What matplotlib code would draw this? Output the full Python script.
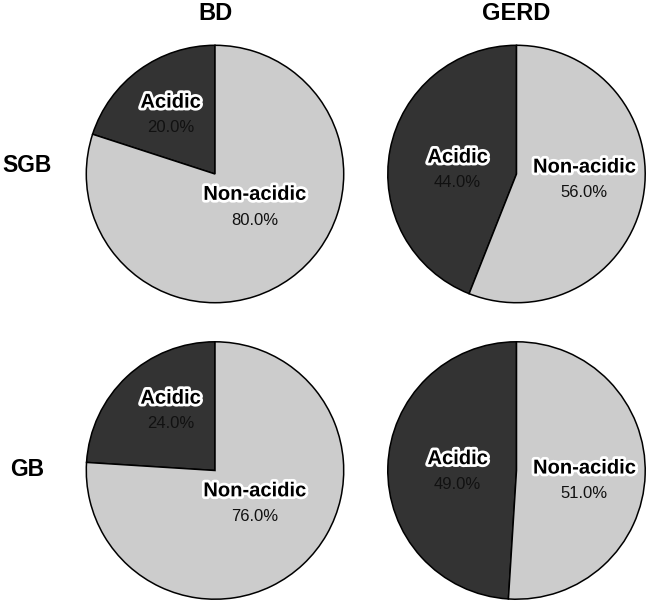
import numpy as np
import matplotlib
matplotlib.use("Agg")
import matplotlib.pyplot as plt
import matplotlib.patheffects as pe

plt.rcParams['font.family'] = ['Liberation Sans', 'DejaVu Sans']

col_titles = ["BD", "GERD"]
row_titles = ["SGB", "GB"]
categories = ["Acidic", "Non-acidic"]
sgb_bd = [20.0, 80.0]
sgb_gerd = [44.0, 56.0]
gb_bd = [24.0, 76.0]
gb_gerd = [49.0, 51.0]
panels = [[sgb_bd, sgb_gerd], [gb_bd, gb_gerd]]
colors = ["#333333", "#cccccc"]
# label anchor (in pie-radius units) per panel/slice: styling only
label_pos = [[[(-0.346, 0.458), (0.308, -0.258)], [(-0.458, 0.031), (0.527, -0.046)]],
             [[(-0.346, 0.462), (0.308, -0.258)], [(-0.458, -0.008), (0.527, -0.081)]]]
row_label_y = [165, 469]

W, H = 650, 603
fig = plt.figure(figsize=(W / 100, H / 100), dpi=100)
R = 130
centers_x = [215, 516.5]
centers_y = [174, 470.5]

for i, row in enumerate(panels):
    for j, vals in enumerate(row):
        cx, cy = centers_x[j], centers_y[i]
        ax = fig.add_axes([(cx - R) / W, (H - (cy + R)) / H, 2 * R / W, 2 * R / H])
        wedges, _ = ax.pie(vals, colors=colors, startangle=90, counterclock=True,
                           radius=1.0, wedgeprops=dict(edgecolor="black", linewidth=1.1))
        ax.set_xlim(-1.01, 1.01)
        ax.set_ylim(-1.01, 1.01)
        ax.set_aspect('equal')
        ax.axis('off')
        for k, (cat, v) in enumerate(zip(categories, vals)):
            x, y = label_pos[i][j][k]
            ax.text(x, y + 0.1, cat, ha='center', va='center', fontsize=14.5,
                    fontweight='bold', color='black',
                    path_effects=[pe.withStroke(linewidth=4, foreground='white')])
            ax.text(x, y - 0.1, f"{v:.1f}%", ha='center', va='center', fontsize=12,
                    color='#111111')

for j, t in enumerate(col_titles):
    fig.text(centers_x[j] / W, 1 - 13 / H, t, ha='center', va='center',
             fontsize=17, fontweight='bold')
for i, t in enumerate(row_titles):
    fig.text(27 / W, 1 - row_label_y[i] / H, t, ha='center', va='center',
             fontsize=16.5, fontweight='bold')

fig.savefig("out.png", dpi=100)
